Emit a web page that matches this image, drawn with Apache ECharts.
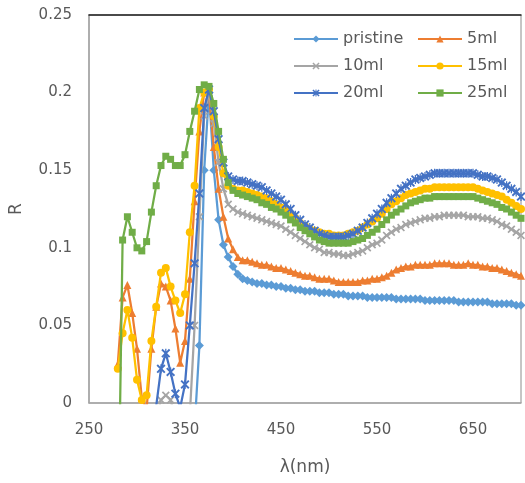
<!DOCTYPE html>
<html>
<head>
<meta charset="utf-8">
<script src="https://cdn.jsdelivr.net/npm/echarts@6/dist/echarts.min.js"></script>
<style>
  html, body { margin: 0; padding: 0; background: #fff; }
  #chart-container { width: 525px; height: 483px; }
</style>
</head>
<body>
<div id="chart-container"></div>
<script>
var wavelength = [
  280, 285, 290, 295, 300, 305, 310, 315, 320, 325, 330, 335, 340, 345, 350, 355, 360, 365, 370, 375, 380, 385, 390, 395, 400,
  405, 410, 415, 420, 425, 430, 435, 440, 445, 450, 455, 460, 465, 470, 475, 480, 485, 490, 495, 500,
  505, 510, 515, 520, 525, 530, 535, 540, 545, 550, 555, 560, 565, 570, 575, 580, 585, 590, 595, 600,
  605, 610, 615, 620, 625, 630, 635, 640, 645, 650, 655, 660, 665, 670, 675, 680, 685, 690, 695, 700
];

var pristine = [
  null, null, null, null, null, null, null, null, null, null, null, null, null, null, null,
  -0.07, -0.016, 0.037, 0.150, 0.200, 0.150, 0.118, 0.102, 0.094, 0.088,
  0.083, 0.080, 0.079, 0.078, 0.077, 0.077, 0.076, 0.076, 0.075, 0.075,
  0.074, 0.074, 0.073, 0.073, 0.072, 0.072, 0.072, 0.071, 0.071, 0.071,
  0.070, 0.070, 0.070, 0.069, 0.069, 0.069, 0.069, 0.068, 0.068, 0.068,
  0.068, 0.068, 0.068, 0.067, 0.067, 0.067, 0.067, 0.067, 0.067, 0.066,
  0.066, 0.066, 0.066, 0.066, 0.066, 0.066, 0.065, 0.065, 0.065, 0.065,
  0.065, 0.065, 0.065, 0.064, 0.064, 0.064, 0.064, 0.064, 0.063, 0.063
];

var ml5 = [
  0.025, 0.068, 0.076, 0.058, 0.035, 0.003, -0.004, 0.035, 0.062, 0.077, 0.075, 0.066, 0.048,
  0.026, 0.040, 0.080, 0.130, 0.175, 0.200, 0.198, 0.165, 0.138, 0.120, 0.106, 0.099,
  0.094, 0.092, 0.092, 0.091, 0.090, 0.089, 0.089, 0.088, 0.087, 0.087,
  0.086, 0.085, 0.084, 0.083, 0.082, 0.082, 0.081, 0.080, 0.080, 0.080,
  0.079, 0.078, 0.078, 0.078, 0.078, 0.078, 0.079, 0.079, 0.080, 0.080,
  0.081, 0.082, 0.084, 0.086, 0.087, 0.088, 0.088, 0.089, 0.089, 0.089,
  0.089, 0.090, 0.090, 0.090, 0.090, 0.089, 0.089, 0.089, 0.090, 0.089,
  0.089, 0.088, 0.088, 0.087, 0.087, 0.086, 0.085, 0.084, 0.083, 0.082
];

var ml10 = [
  null, null, null, null, null, null, null, null,
  -0.010, 0.002, 0.005, 0.002, -0.010, -0.030, -0.030, -0.008, 0.050, 0.120, 0.185, 0.200, 0.180, 0.155, 0.138, 0.128, 0.125,
  0.123, 0.122, 0.121, 0.120, 0.119, 0.118, 0.117, 0.116, 0.115, 0.114,
  0.112, 0.110, 0.108, 0.106, 0.104, 0.102, 0.100, 0.099, 0.097, 0.097,
  0.096, 0.096, 0.095, 0.095, 0.096, 0.097, 0.098, 0.100, 0.102, 0.103,
  0.105, 0.108, 0.110, 0.112, 0.113, 0.115, 0.116, 0.117, 0.118, 0.119,
  0.119, 0.120, 0.120, 0.121, 0.121, 0.121, 0.121, 0.121, 0.120, 0.120,
  0.120, 0.119, 0.119, 0.118, 0.117, 0.115, 0.114, 0.112, 0.110, 0.108
];

var ml15 = [
  0.022, 0.045, 0.060, 0.042, 0.015, 0.002, 0.005, 0.040, 0.062, 0.084, 0.087, 0.075, 0.066,
  0.058, 0.070, 0.110, 0.140, 0.190, 0.200, 0.202, 0.185, 0.165, 0.148, 0.140, 0.138,
  0.137, 0.137, 0.136, 0.135, 0.134, 0.133, 0.132, 0.130, 0.128, 0.126,
  0.124, 0.121, 0.119, 0.116, 0.114, 0.112, 0.111, 0.110, 0.109, 0.109,
  0.108, 0.108, 0.108, 0.109, 0.110, 0.111, 0.113, 0.115, 0.117, 0.119,
  0.122, 0.125, 0.128, 0.130, 0.132, 0.134, 0.135, 0.136, 0.137, 0.138,
  0.138, 0.139, 0.139, 0.139, 0.139, 0.139, 0.139, 0.139, 0.139, 0.139,
  0.138, 0.137, 0.136, 0.135, 0.134, 0.133, 0.131, 0.129, 0.127, 0.125
];

var ml20 = [
  null, null, null, null, null, null, null, null,
  -0.002, 0.022, 0.032, 0.020, 0.006, -0.003, 0.012, 0.050, 0.090, 0.135, 0.190, 0.202, 0.188, 0.170, 0.155, 0.146, 0.144,
  0.143, 0.143, 0.142, 0.141, 0.140, 0.139, 0.137, 0.135, 0.133, 0.131,
  0.128, 0.125, 0.121, 0.118, 0.115, 0.113, 0.111, 0.109, 0.108, 0.107,
  0.107, 0.107, 0.107, 0.108, 0.109, 0.111, 0.113, 0.116, 0.119, 0.122,
  0.125, 0.129, 0.132, 0.135, 0.138, 0.140, 0.142, 0.144, 0.145, 0.146,
  0.147, 0.148, 0.148, 0.148, 0.148, 0.148, 0.148, 0.148, 0.148, 0.148,
  0.147, 0.146, 0.146, 0.145, 0.144, 0.142, 0.140, 0.138, 0.136, 0.133
];

var ml25 = [
  -0.100, 0.105, 0.120, 0.110, 0.100, 0.098, 0.104, 0.123, 0.140, 0.153, 0.159, 0.157, 0.153,
  0.153, 0.160, 0.175, 0.188, 0.202, 0.205, 0.204, 0.193, 0.175, 0.157, 0.142, 0.137,
  0.135, 0.134, 0.133, 0.132, 0.131, 0.129, 0.128, 0.126, 0.125, 0.123,
  0.121, 0.118, 0.116, 0.113, 0.111, 0.109, 0.107, 0.105, 0.104, 0.103,
  0.103, 0.103, 0.103, 0.103, 0.104, 0.105, 0.106, 0.108, 0.110, 0.112,
  0.115, 0.118, 0.121, 0.123, 0.125, 0.127, 0.129, 0.130, 0.131, 0.132,
  0.132, 0.133, 0.133, 0.133, 0.133, 0.133, 0.133, 0.133, 0.133, 0.133,
  0.132, 0.131, 0.130, 0.129, 0.128, 0.126, 0.125, 0.123, 0.121, 0.119
];

var seriesNames = ["pristine", "5ml", "10ml", "15ml", "20ml", "25ml"];
var seriesValues = [pristine, ml5, ml10, ml15, ml20, ml25];
var seriesColors = ["#5B9BD5", "#ED7D31", "#A5A5A5", "#FFC000", "#4472C4", "#70AD47"];

// excel-like markers
var crossPath = "path://M0,1.5L1.5,0L5,3.5L8.5,0L10,1.5L6.5,5L10,8.5L8.5,10L5,6.5L1.5,10L0,8.5L3.5,5Z";
var starPath = "path://M4.3,0H5.7V10H4.3Z M0,1.5L1.5,0L5,3.5L8.5,0L10,1.5L6.5,5L10,8.5L8.5,10L5,6.5L1.5,10L0,8.5L3.5,5Z";
var seriesSymbols = ["diamond", "triangle", crossPath, "circle", starPath, "rect"];
var seriesSizes = [9, 8, 8, 8, 9, 7];

var dom = document.getElementById("chart-container");
var myChart = echarts.init(dom, null, { renderer: "canvas" });

var textColor = "#595959";
var fontFamily = "DejaVu Sans";

var series = seriesNames.map(function (name, k) {
  return {
    name: name,
    type: "line",
    data: wavelength.map(function (w, i) {
      var v = seriesValues[k][i];
      return [w, v === null ? "-" : v];
    }),
    symbol: seriesSymbols[k],
    symbolSize: seriesSizes[k],
    color: seriesColors[k],
    lineStyle: { width: 2.25, color: seriesColors[k] },
    itemStyle: { color: seriesColors[k] },
    animation: false,
    z: 2 + k,
  };
});

var legendCommon = {
  orient: "vertical",
  top: 30,
  padding: 0,
  itemWidth: 44,
  itemHeight: 9,
  itemGap: 9,
  textStyle: { color: textColor, fontSize: 16, fontFamily: fontFamily, lineHeight: 18 },
};

var option = {
  backgroundColor: "#fff",
  animation: false,
  grid: {
    left: 88,
    right: 4,
    top: 15,
    bottom: 80,
    show: true,
    borderColor: "#8c8c8c",
    borderWidth: 1,
  },
  legend: [
    Object.assign({ left: 293, data: ["pristine", "10ml", "20ml"] }, legendCommon),
    Object.assign({ left: 417, data: ["5ml", "15ml", "25ml"] }, legendCommon),
  ],
  xAxis: [
    {
      type: "value",
      min: 250,
      max: 700,
      interval: 50,
      name: "\u03bb(nm)",
      nameLocation: "middle",
      nameGap: 56,
      nameTextStyle: { color: textColor, fontSize: 17, fontFamily: fontFamily },
      axisLine: { show: true, lineStyle: { color: "#a6a6a6", width: 1.5 } },
      axisTick: { show: false },
      splitLine: { show: false },
      axisLabel: {
        color: textColor,
        fontSize: 15,
        fontFamily: fontFamily,
        margin: 20,
        showMaxLabel: false,
        formatter: function (v) {
          return (v - 250) % 100 === 0 ? String(v) : "";
        },
      },
    },
    {
      type: "value",
      min: 250,
      max: 700,
      position: "top",
      axisLine: { show: true, onZero: false, lineStyle: { color: "#222", width: 1.5 } },
      axisTick: { show: false },
      axisLabel: { show: false },
      splitLine: { show: false },
    },
  ],
  yAxis: {
    type: "value",
    min: 0,
    max: 0.25,
    interval: 0.05,
    name: "R",
    nameLocation: "middle",
    nameGap: 64,
    nameTextStyle: { color: textColor, fontSize: 17, fontFamily: fontFamily },
    axisLine: { show: true, lineStyle: { color: "#a6a6a6", width: 1.5 } },
    axisTick: { show: false },
    splitLine: { show: false },
    axisLabel: { color: textColor, fontSize: 15, fontFamily: fontFamily, margin: 17 },
  },
  series: series,
};

myChart.setOption(option);

window.addEventListener("resize", myChart.resize);
</script>
</body>
</html>
